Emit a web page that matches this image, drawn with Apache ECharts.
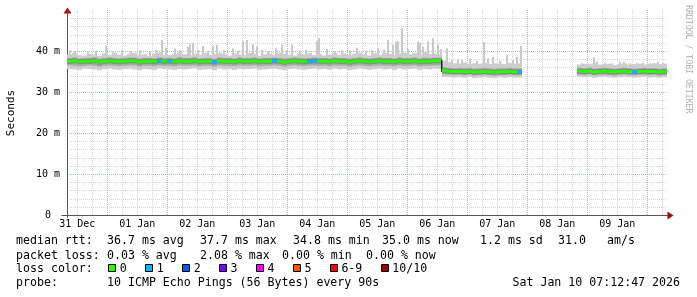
<!DOCTYPE html>
<html><head><meta charset="utf-8">
<script src="https://cdn.jsdelivr.net/npm/echarts@6.0.0/dist/echarts.min.js"></script>
<style>html,body{margin:0;padding:0;background:#fff}#c{width:697px;height:297px}</style>
</head><body><div id="c"></div>
<script>
// ---------------- data ----------------
const xLabelHours = [12,36,60,84,108,132,156,180,204,228];
const xLabelNames = ['31 Dec','01 Jan','02 Jan','03 Jan','04 Jan','05 Jan','06 Jan','07 Jan','08 Jan','09 Jan'];
// hours since 31 Dec 00:00; two-hour columns
const segStartA = 9, segStartB = 213;
const medianA = [
37.5,37.6,37.4,37.5,37.5,37.6,37.3,37.5,37.6,37.5,
37.4,37.5,37.6,37.6,37.3,37.5,37.5,37.4,37.6,37.5,
37.5,37.4,37.6,37.5,37.5,37.6,37.4,37.5,37.5,37.3,
37.6,37.5,37.5,37.4,37.6,37.5,37.5,37.6,37.4,37.5,
37.5,37.6,37.5,37.3,37.5,37.6,37.5,37.4,37.5,37.6,
37.5,37.5,37.4,37.6,37.5,37.5,37.3,37.5,37.6,37.5,
37.4,37.5,37.6,37.5,37.5,37.4,37.6,37.5,37.5,37.6,
37.4,37.5,37.5,37.6,37.6,
35.2,35.1,35.0,35.0,34.9,35.0,34.9,34.9,35.0,34.9,34.8,34.9,34.9,35.0,34.9,34.9];
const hiA = [
39.2,39.5,39.0,38.9,39.3,39.1,38.8,39.4,39.0,39.6,
39.1,38.9,39.3,39.5,39.0,39.2,38.8,39.4,39.6,39.1,
39.0,39.3,39.7,39.2,38.9,39.4,39.1,39.5,39.0,39.3,
39.6,39.2,38.9,39.4,39.1,39.0,39.5,39.3,38.8,39.2,
39.4,39.0,39.6,39.3,39.1,38.9,39.4,39.2,39.5,39.0,
39.3,38.9,39.2,39.5,39.1,39.4,39.0,39.3,39.6,39.2,
38.9,39.4,39.1,39.5,39.3,39.0,39.4,39.6,39.2,39.5,
39.1,39.7,39.3,39.4,39.2,
37.6,37.3,37.0,36.9,37.2,36.8,37.0,36.9,37.1,36.8,37.0,36.9,36.8,37.1,36.9,37.0];
const midHiA = [
38.3,38.4,38.2,38.3,38.3,38.5,38.2,38.3,38.4,38.3,
38.2,38.3,38.4,38.4,38.2,38.3,38.3,38.2,38.4,38.3,
38.3,38.2,38.5,38.3,38.3,38.4,38.2,38.3,38.3,38.1,
38.4,38.3,38.3,38.2,38.4,38.3,38.3,38.4,38.2,38.3,
38.3,38.4,38.3,38.2,38.3,38.4,38.3,38.2,38.3,38.4,
38.3,38.3,38.2,38.4,38.3,38.3,38.2,38.3,38.4,38.3,
38.2,38.3,38.4,38.3,38.3,38.2,38.4,38.3,38.3,38.4,
38.2,38.4,38.3,38.4,38.4,
36.0,35.9,35.8,35.9,35.8,35.9,35.7,35.8,35.9,35.8,35.7,35.8,35.8,35.9,35.8,35.8];
const midLoA = [
36.5,36.4,36.3,36.4,36.5,36.4,36.2,36.4,36.5,36.4,
36.3,36.4,36.5,36.5,36.2,36.4,36.4,36.3,36.5,36.4,
36.4,36.3,36.5,36.4,36.4,36.5,36.3,36.4,36.4,36.2,
36.5,36.4,36.4,36.3,36.5,36.4,36.4,36.5,36.3,36.4,
36.4,36.5,36.4,36.2,36.4,36.5,36.4,36.3,36.4,36.5,
36.4,36.4,36.3,36.5,36.4,36.4,36.2,36.4,36.5,36.4,
36.3,36.4,36.5,36.4,36.4,36.3,36.5,36.4,36.4,36.5,
36.3,36.4,36.4,36.5,36.5,
34.3,34.2,34.1,34.2,34.1,34.2,34.0,34.1,34.2,34.1,34.0,34.1,34.1,34.2,34.1,34.1];
const loA = [
35.6,35.5,35.4,35.7,35.6,35.5,35.3,35.6,35.7,35.5,
35.4,35.6,35.7,35.5,35.3,35.6,35.5,35.4,35.7,35.6,
35.5,35.4,35.6,35.5,35.6,35.7,35.4,35.5,35.6,35.3,
35.7,35.5,35.6,35.4,35.6,35.5,35.6,35.7,35.4,35.5,
35.6,35.7,35.5,35.3,35.6,35.7,35.5,35.4,35.6,35.7,
35.5,35.6,35.4,35.7,35.5,35.6,35.3,35.5,35.7,35.6,
35.4,35.6,35.7,35.5,35.6,35.4,35.7,35.5,35.6,35.7,
35.4,35.6,35.5,35.7,35.6,
33.7,33.6,33.5,33.6,33.5,33.7,33.4,33.5,33.6,33.5,33.4,33.6,33.5,33.6,33.5,33.5];
const medianB = [35.1,35.0,35.1,34.9,35.0,35.1,35.0,34.9,35.0,35.1,35.0,34.9,35.0,35.1,35.0,35.0,34.9,35.0];
const hiB     = [36.7,36.9,36.8,37.0,36.7,36.8,36.9,36.6,36.8,37.0,36.7,36.8,36.9,36.7,36.8,37.0,36.8,36.9];
const midHiB  = [35.9,35.8,35.9,35.7,35.8,35.9,35.8,35.7,35.8,35.9,35.8,35.7,35.8,35.9,35.8,35.8,35.7,35.8];
const midLoB  = [34.2,34.1,34.3,34.1,34.2,34.2,34.1,34.0,34.2,34.3,34.1,34.1,34.2,34.2,34.1,34.2,34.0,34.1];
const loB     = [33.7,33.6,33.7,33.5,33.6,33.7,33.6,33.5,33.6,33.7,33.6,33.5,33.6,33.7,33.5,33.6,33.5,33.6];
const lossHours  = [45,49,67,91,105,107,189,235];
const lossCounts = [1,1,1,1,1,1,1,1];
const spikeHours = [9.1,11.1,16.3,19.5,23.5,26.3,29.9,33.5,37.1,41.1,43.5,45.9,47.5,51.1,53.1,56.3,57.1,58.3,60.3,62.3,
64.3,66.3,67.9,70.7,74.3,76.3,78.3,79.9,82.3,83.9,85.9,88.3,91.5,93.9,95.9,97.9,101.1,103.5,107.9,108.7,
111.9,115.1,117.9,121.1,123.9,127.5,129.9,132.3,134.7,136.3,138.3,139.5,140.3,141.9,144.3,148.3,149.1,150.3,152.3,154.3,
156.3,157.5,
159.7,161.9,164.3,165.9,169.1,171.9,174.5,176.3,178.3,181.1,183.9,186.3,187.9,189.5,
213.9,215.9,218.5,219.9,223.1,225.9,229.1,230.5,233.1,235.9,238.3,241.1,244.3,246.3];
const spikeTops = [40.2,40.0,39.9,40.1,41.3,39.9,40.2,40.0,40.2,39.8,40.3,42.7,40.8,40.6,40.2,41.0,41.6,42.0,40.3,41.2,
40.0,41.3,41.5,40.2,40.7,40.1,42.4,42.7,41.6,41.1,40.3,40.0,40.7,41.5,40.2,41.6,40.1,40.3,42.4,43.1,
40.5,40.0,40.2,40.1,40.8,40.0,40.2,40.7,40.3,42.7,41.5,42.3,42.4,45.5,40.5,42.3,42.0,41.0,42.3,43.1,
41.6,40.4,
40.7,37.8,38.0,37.8,38.2,37.6,42.2,38.2,38.6,37.6,39.0,37.8,38.6,41.2,
37.0,36.9,38.5,37.4,37.1,37.0,37.4,37.4,37.0,37.1,37.2,37.0,37.4,37.1];
const lossLabels = ['0','1','2','3','4','5','6-9','10/10'];
const lossColors = ['#26ff00','#00b8ff','#0059ff','#7e00ff','#ff00ff','#ff5500','#ff0000','#a10000'];
const rttLabel = 'median rtt:';
const rttStats = ['36.7 ms avg','37.7 ms max','34.8 ms min','35.0 ms now','1.2 ms sd','31.0','am/s'];
const pktLabel = 'packet loss:';
const pktStats = ['0.03 % avg','2.08 % max','0.00 % min','0.00 % now'];
const lossLabel = 'loss color:';
const probeLabel = 'probe:';
const probeText = '10 ICMP Echo Pings (56 Bytes) every 90s';
const stampText = 'Sat Jan 10 07:12:47 2026';
const yName = 'Seconds';
const watermark = 'RRDTOOL / TOBI OETIKER';

// ---------------- layout / style ----------------
const MONO = 'DejaVu Sans Mono';
const xMin = 7.88, xMax = 247.88;
const LF = 11.6;
const rttX = [107,200,293,382,480,558,607];
const pktX = [107,200,282,366];

function bandItems(start, lo, mlo, mhi, hi){ return lo.map((v,i)=>[start+2*i, v, mlo[i], mhi[i], hi[i]]); }
function medItems(start, med){
  return med.map((m,i)=>{ const t=start+2*i; const k=lossHours.indexOf(t);
    return [t, m, i+1<med.length?med[i+1]:m, k>=0?lossCounts[k]:0]; });
}
function lossIdx(c){ return c<=5?c:(c<10?6:7); }

const gridData = [];
for (let h=12; h<=246; h+=6) gridData.push([h, h%24===0?1:0]);
for (let v=2; v<50; v+=2) gridData.push([v, v%10===0?3:2]);

const chart = echarts.init(document.getElementById('c'), null, {renderer:'canvas'});

const graphics = [];
function txt(x,y,t,opt){ graphics.push(Object.assign({type:'text', x:x, y:y, style:Object.assign({text:t, fontFamily:MONO, fontSize:LF, fill:'#000', verticalAlign:'middle'}, opt&&opt.style||{})}, opt&&opt.el||{})); }
// axis extras & arrows
graphics.push({type:'line', shape:{x1:61.5,y1:215.5,x2:67,y2:215.5}, style:{stroke:'#555',lineWidth:1}});
graphics.push({type:'line', shape:{x1:667,y1:215.5,x2:669,y2:215.5}, style:{stroke:'#555',lineWidth:1}});
graphics.push({type:'line', shape:{x1:67.5,y1:215,x2:67.5,y2:218}, style:{stroke:'#555',lineWidth:1}});
graphics.push({type:'polygon', shape:{points:[[63.5,13.5],[71.5,13.5],[67.5,7.5]]}, style:{fill:'#9a1010'}});
graphics.push({type:'polygon', shape:{points:[[667.5,211.5],[667.5,219.5],[673.5,215.5]]}, style:{fill:'#9a1010'}});
// texts
txt(11, 113, yName, {style:{fontSize:11, align:'center'}, el:{rotation:Math.PI/2}});
txt(688, 5, watermark, {style:{fontSize:8.2, fill:'#b0b0b0', align:'left'}, el:{rotation:-Math.PI/2}});
txt(16, 241, rttLabel);
rttStats.forEach((s,i)=>txt(rttX[i], 241, s));
txt(16, 255.5, pktLabel);
pktStats.forEach((s,i)=>txt(pktX[i], 255.5, s));
txt(16, 268.5, lossLabel);
let bx = 108.3;
lossLabels.forEach((l,i)=>{
  graphics.push({type:'rect', shape:{x:Math.round(bx)+0.5, y:264.5, width:7, height:7}, style:{fill:lossColors[i], stroke:'#000', lineWidth:1}});
  txt(bx+11.5, 268.5, l);
  bx += 11.5 + l.length*7.03 + 18.4;
});
txt(16, 283, probeLabel);
txt(107, 283, probeText);
txt(680, 283, stampText, {style:{align:'right'}});

const option = {
  animation:false,
  backgroundColor:'#ffffff',
  grid:{left:67, top:10, width:600, height:205, containLabel:false},
  xAxis:{type:'value', min:xMin, max:xMax, axisLine:{show:true, lineStyle:{color:'#555', width:1}}, axisTick:{show:false}, axisLabel:{show:false}, splitLine:{show:false}},
  yAxis:{type:'value', min:0, max:50, interval:10,
    axisLine:{show:true, lineStyle:{color:'#555', width:1}}, axisTick:{show:false}, splitLine:{show:false},
    axisLabel:{showMaxLabel:false, margin:7, fontFamily:MONO, fontSize:10, color:'#000',
      formatter:v=> v===0 ? '{z|0}' : v+' m',
      rich:{z:{fontFamily:MONO, fontSize:10, color:'#000', padding:[0,9,0,0]}}}},
  graphic:graphics,
  series:[
    { type:'custom', name:'grid', z:1, silent:true, data:gridData,
      renderItem:(params, api)=>{
        const cs=params.coordSys; const v=api.value(0), k=api.value(1);
        const col = (k===1||k===3) ? 'rgba(225,70,70,0.5)' : 'rgba(150,150,150,0.38)';
        if (k<2){ const x=Math.round(api.coord([v,0])[0])+0.5;
          return {type:'line', shape:{x1:x,y1:cs.y,x2:x,y2:cs.y+cs.height}, style:{stroke:col,lineWidth:1,lineDash:[1,1]}}; }
        const y=Math.round(api.coord([xMin+1,v])[1])+0.5;
        return {type:'line', shape:{x1:cs.x,y1:y,x2:cs.x+cs.width,y2:y}, style:{stroke:col,lineWidth:1,lineDash:[1,1]}};
      }},
    { type:'custom', name:'xlabels', z:1, silent:true, data:xLabelHours.map(h=>[h,0]),
      renderItem:(params, api)=>{
        const p=api.coord([api.value(0),0]);
        return {type:'text', x:p[0], y:p[1]+4, style:{text:xLabelNames[params.dataIndex], fontFamily:MONO, fontSize:10, fill:'#000', align:'center', verticalAlign:'top'}};
      }},
    { type:'custom', name:'spikes', z:2, clip:true, silent:true, data:spikeHours.map((h,i)=>[h, spikeTops[i]]),
      renderItem:(params, api)=>{
        const h=api.value(0), top=api.value(1);
        const x=Math.round(api.coord([h,0])[0]); const yT=api.coord([h,top])[1], yB=api.coord([h,36])[1];
        return {type:'rect', shape:{x:x-1,y:yT,width:2,height:yB-yT}, style:{fill:'#c9c9c9'}};
      }},
    { type:'custom', name:'smoke', z:3, clip:true, silent:true,
      data: bandItems(segStartA, loA, midLoA, midHiA, hiA).concat(bandItems(segStartB, loB, midLoB, midHiB, hiB)),
      renderItem:(params, api)=>{
        const t=api.value(0);
        const x0=Math.round(api.coord([t-1,0])[0]), x1=Math.round(api.coord([t+1,0])[0]);
        const y=v=>api.coord([t,v])[1];
        const yLo=y(api.value(1)), yMl=y(api.value(2)), yMh=y(api.value(3)), yHi=y(api.value(4));
        return {type:'group', children:[
          {type:'rect', shape:{x:x0,y:yHi,width:x1-x0,height:yLo-yHi}, style:{fill:'#cdcdcd'}},
          {type:'rect', shape:{x:x0,y:yMh,width:x1-x0,height:yMl-yMh}, style:{fill:'#a9a9a9'}}
        ]};
      }},
    { type:'custom', name:'median', z:4, clip:true, silent:true,
      data: medItems(segStartA, medianA).concat(medItems(segStartB, medianB)),
      renderItem:(params, api)=>{
        const t=api.value(0), m=api.value(1), mn=api.value(2), c=api.value(3);
        const x0=Math.round(api.coord([t-1,0])[0]), x1=Math.round(api.coord([t+1,0])[0]);
        const ym=api.coord([t,m])[1], yn=api.coord([t,mn])[1];
        const ch=[
          {type:'rect', shape:{x:x0,y:ym-2.5,width:x1-x0,height:5}, style:{fill:'#858585'}},
          {type:'rect', shape:{x:x0,y:ym-1.5,width:x1-x0,height:3}, style:{fill:lossColors[lossIdx(c)]}}
        ];
        if (Math.abs(yn-ym)>3) ch.push({type:'rect', shape:{x:x1-1,y:Math.min(ym,yn)-1,width:1.5,height:Math.abs(yn-ym)+2}, style:{fill:'#222'}});
        return {type:'group', children:ch};
      }}
  ]
};
chart.setOption(option);
</script></body></html>
